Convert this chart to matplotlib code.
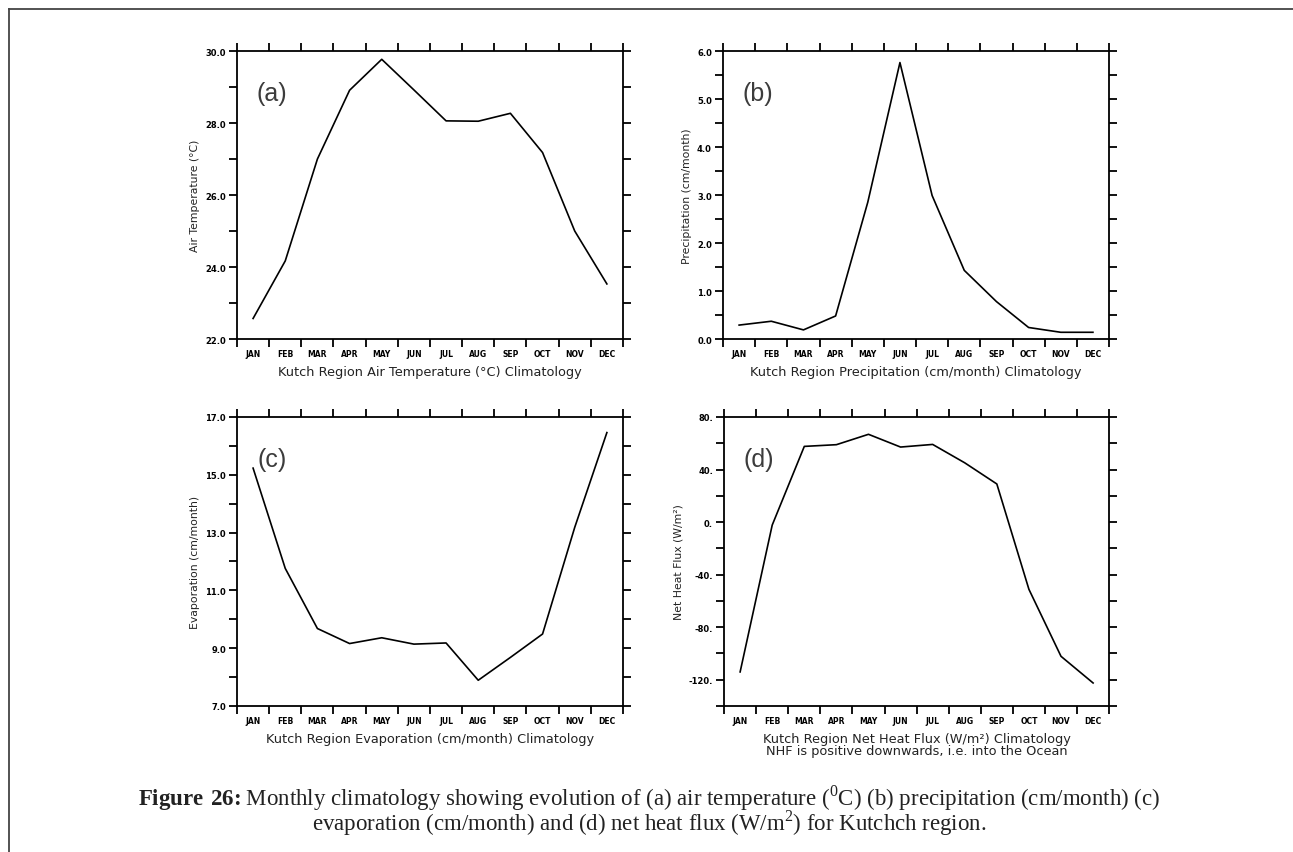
import matplotlib
matplotlib.use("Agg")
import matplotlib.pyplot as plt
from matplotlib.ticker import MultipleLocator
from matplotlib.lines import Line2D

plt.rcParams['mathtext.fontset'] = 'custom'
plt.rcParams['mathtext.rm'] = 'Liberation Serif'
plt.rcParams['mathtext.bf'] = 'Liberation Serif:bold'

# monthly climatology, Kutch region
months = ["JAN", "FEB", "MAR", "APR", "MAY", "JUN",
          "JUL", "AUG", "SEP", "OCT", "NOV", "DEC"]
air_temp = [22.57, 24.17, 27.0, 28.91, 29.77, 28.92, 28.06, 28.05, 28.27, 27.18, 25.0, 23.53]
precip = [0.29, 0.37, 0.19, 0.48, 2.85, 5.76, 2.99, 1.43, 0.78, 0.24, 0.14, 0.14]
evap = [15.23, 11.76, 9.68, 9.16, 9.36, 9.14, 9.18, 7.89, 8.68, 9.49, 13.18, 16.46]
net_heat = [-114.1, -2.3, 57.6, 58.9, 66.8, 57.1, 59.1, 45.1, 29.0, -51.2, -102.2, -122.5]

# y tick values and GrADS style labels
temp_ticks = [22, 24, 26, 28, 30]
temp_labels = ["22.0", "24.0", "26.0", "28.0", "30.0"]
prec_ticks = [0, 1, 2, 3, 4, 5, 6]
prec_labels = ["0.0", "1.0", "2.0", "3.0", "4.0", "5.0", "6.0"]
evap_ticks = [7, 9, 11, 13, 15, 17]
evap_labels = ["7.0", "9.0", "11.0", "13.0", "15.0", "17.0"]
nhf_ticks = [-120, -80, -40, 0, 40, 80]
nhf_labels = ["-120.", "-80.", "-40.", "0.", "40.", "80."]

fig = plt.figure(figsize=(12.93, 8.53), dpi=100)

panels = [
    # rect, tag, data, ylim, ticks, labels, minor step, ylabel, xlabel
    ([0.1833, 0.6014, 0.2985, 0.3376], "(a)", air_temp, (22, 30), temp_ticks, temp_labels, 1,
     "Air Temperature (°C)", "Kutch Region Air Temperature (°C) Climatology"),
    ([0.5592, 0.6014, 0.2985, 0.3376], "(b)", precip, (0, 6), prec_ticks, prec_labels, 0.5,
     "Precipitation (cm/month)", "Kutch Region Precipitation (cm/month) Climatology"),
    ([0.1833, 0.1712, 0.2985, 0.3388], "(c)", evap, (7, 17), evap_ticks, evap_labels, 1,
     "Evaporation (cm/month)", "Kutch Region Evaporation (cm/month) Climatology"),
    ([0.5600, 0.1712, 0.2978, 0.3388], "(d)", net_heat, (-140, 80), nhf_ticks, nhf_labels, 20,
     "Net Heat Flux (W/m²)",
     "Kutch Region Net Heat Flux (W/m²) Climatology\nNHF is positive downwards, i.e. into the Ocean"),
]

x = list(range(1, 13))
for rect, tag, vals, ylim, yt, ylab, minor, ylabel, xlabel in panels:
    ax = fig.add_axes(rect)
    ax.plot(x, vals, color="black", lw=1.2)
    ax.set_xlim(0.5, 12.5)
    ax.set_ylim(*ylim)

    # month boundaries carry the ticks, names sit in between
    ax.set_xticks([m + 0.5 for m in range(0, 13)])
    ax.set_xticklabels([])
    ax.set_xticks(x, minor=True)
    ax.set_xticklabels(months, minor=True, fontsize=5.5, fontweight="bold")
    ax.tick_params(axis="x", which="minor", length=0, pad=7)
    ax.tick_params(axis="x", which="major", direction="out", length=6, width=1.3,
                   top=True, bottom=True)

    ax.set_yticks(yt)
    ax.set_yticklabels(ylab, fontsize=6, fontweight="bold")
    ax.yaxis.set_minor_locator(MultipleLocator(minor))
    ax.tick_params(axis="y", which="both", direction="out", length=6, width=1.3,
                   left=True, right=True, pad=2)

    for s in ax.spines.values():
        s.set_linewidth(1.3)

    ax.set_ylabel(ylabel, fontsize=7.8, color="#222222", labelpad=4)
    ax.set_xlabel(xlabel, fontsize=9.3, color="#222222", labelpad=5, linespacing=0.9)
    ax.text(0.09, 0.855, tag, transform=ax.transAxes, fontsize=18, color="#3c3c3c",
            family="Liberation Sans", ha="center", va="center")

# page frame (top and left edge only)
fig.add_artist(Line2D([9 / 1293, 9 / 1293], [0, 1 - 10 / 853], transform=fig.transFigure,
                      color="#444444", lw=1.3))
fig.add_artist(Line2D([9 / 1293, 1], [1 - 10 / 853, 1 - 10 / 853], transform=fig.transFigure,
                      color="#444444", lw=1.3))

caption = (r"$\bf{Figure\ 26\!:}$Monthly climatology showing evolution of (a) air temperature "
           r"($^0$C) (b) precipitation (cm/month) (c)" "\n"
           r"evaporation (cm/month) and (d) net heat flux (W/m$^2$) for Kutchch region.")
fig.text(0.502, 1 - 811 / 853, caption, family="Liberation Serif", fontsize=16.5,
         color="#222222", ha="center", va="center", multialignment="center", linespacing=0.78)

fig.savefig("out.png", dpi=100)
